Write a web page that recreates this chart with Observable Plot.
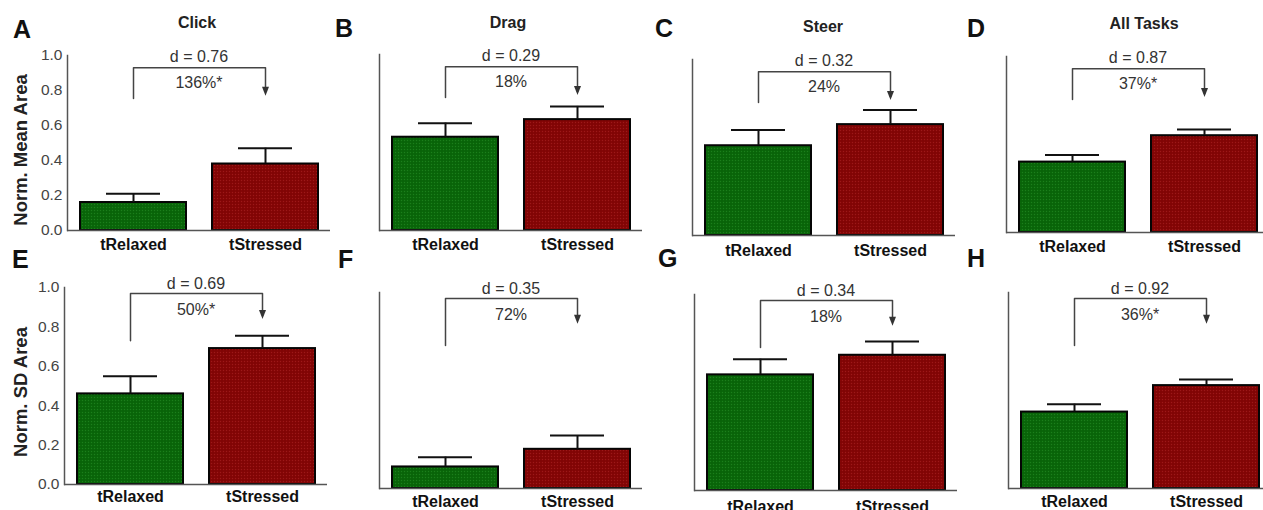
<!DOCTYPE html>
<html>
<head>
<meta charset="utf-8">
<script src="https://cdn.jsdelivr.net/npm/d3@7"></script>
<script src="https://cdn.jsdelivr.net/npm/@observablehq/plot@0.6"></script>
<style>
  body { margin: 0; background: #fff; }
  #root { position: relative; width: 1263px; height: 510px; overflow: hidden;
          font-family: "Liberation Sans", Arial, sans-serif; background: #fff; }
  .abs { position: absolute; white-space: pre; line-height: 1; }
  .letter { font-size: 25px; font-weight: bold; color: #111; }
  .title { font-size: 16px; font-weight: bold; color: #222; transform: translateX(-50%); }
  .ylab { font-size: 18.5px; font-weight: bold; color: #222; transform: translate(-50%, -50%) rotate(-90deg); }
  .panel { position: absolute; }
  .panel svg { max-width: none !important; }
</style>
</head>
<body>
<svg width="0" height="0" style="position:absolute">
  <defs>
    <pattern id="pGreen" width="3" height="3" patternUnits="userSpaceOnUse">
      <rect width="3" height="3" fill="#0a680a"></rect>
      <rect x="0" y="0" width="1" height="1" fill="#1d7d1d"></rect>
      <rect x="1.5" y="1.5" width="1" height="1" fill="#055205"></rect>
    </pattern>
    <pattern id="pRed" width="3" height="3" patternUnits="userSpaceOnUse">
      <rect width="3" height="3" fill="#860606"></rect>
      <rect x="0" y="0" width="1" height="1" fill="#9a1a1a"></rect>
      <rect x="1.5" y="1.5" width="1" height="1" fill="#6e0202"></rect>
    </pattern>
  </defs>
</svg>
<div id="root"></div>
<script>
// ---------------- data ----------------
const tasks = ["Click", "Drag", "Steer", "All Tasks"];
const panelLetters = ["A", "B", "C", "D", "E", "F", "G", "H"];
const conditions = ["tRelaxed", "tStressed"];
const yLabels = ["Norm. Mean Area", "Norm. SD Area"];
const yTicks = [0, 0.2, 0.4, 0.6, 0.8, 1.0];

const meanAreaRelaxed     = [0.16, 0.53, 0.51, 0.40];
const meanAreaRelaxedErr  = [0.05, 0.08, 0.09, 0.04];
const meanAreaStressed    = [0.38, 0.63, 0.63, 0.55];
const meanAreaStressedErr = [0.09, 0.075, 0.083, 0.035];
const meanAreaD   = ["d = 0.76", "d = 0.29", "d = 0.32", "d = 0.87"];
const meanAreaPct = ["136%*", "18%", "24%", "37%*"];

const sdAreaRelaxed     = [0.46, 0.11, 0.59, 0.39];
const sdAreaRelaxedErr  = [0.09, 0.05, 0.08, 0.04];
const sdAreaStressed    = [0.69, 0.20, 0.69, 0.525];
const sdAreaStressedErr = [0.065, 0.07, 0.07, 0.031];
const sdAreaD   = ["d = 0.69", "d = 0.35", "d = 0.34", "d = 0.92"];
const sdAreaPct = ["50%*", "72%", "18%", "36%*"];

// ---------------- layout / style ----------------
const frames = [
  {axisX: 67,   topY: 55,  baseY: 230, pad: 8.5}, {axisX: 379,  topY: 54,  baseY: 230, pad: 8.5},
  {axisX: 692,  topY: 59,  baseY: 235, pad: 9},   {axisX: 1006, topY: 56,  baseY: 232, pad: 8.5},
  {axisX: 64,   topY: 287, baseY: 484, pad: 6.5}, {axisX: 379,  topY: 292, baseY: 488, pad: 7},
  {axisX: 694,  topY: 294, baseY: 490, pad: 10},  {axisX: 1008, topY: 292, baseY: 488, pad: 7}
];
const frameW = 263;
const letterPos = [{x:13,b:38},{x:335,b:37},{x:655,b:37},{x:967,b:37},
                   {x:12,b:268},{x:338,b:268},{x:658,b:267},{x:967,b:267}];
const titlePos = [{cx:197,b:28.5},{cx:508,b:28.5},{cx:823,b:33},{cx:1144,b:30}];
const yLabelPos = [{cx:21, cy:150}, {cx:21, cy:392}];
const annotRows = [
  {bTop: 0.93, leg: 0.755, tip: 0.77, dY: 0.99, pY: 0.845},
  {bTop: 0.97, leg: 0.73,  tip: 0.84, dY: 1.02, pY: 0.885}
];
const GREEN = "url(#pGreen)", RED = "url(#pRed)";
const FONT = '"Liberation Sans", Arial, sans-serif';

const downArrow = {
  draw(ctx, size) {
    const r = Math.sqrt(size / Math.PI);
    ctx.moveTo(0, 0);
    ctx.lineTo(-0.875 * r, -2.25 * r);
    ctx.lineTo(0.875 * r, -2.25 * r);
    ctx.closePath();
  }
};

const root = document.getElementById("root");
function addText(cls, text, styles) {
  const el = document.createElement("div");
  el.className = "abs " + cls;
  el.textContent = text;
  Object.assign(el.style, styles);
  root.appendChild(el);
}

const rowsData = [
  {rel: meanAreaRelaxed, relE: meanAreaRelaxedErr, str: meanAreaStressed, strE: meanAreaStressedErr, d: meanAreaD, p: meanAreaPct},
  {rel: sdAreaRelaxed, relE: sdAreaRelaxedErr, str: sdAreaStressed, strE: sdAreaStressedErr, d: sdAreaD, p: sdAreaPct}
];

for (let row = 0; row < 2; row++) {
  for (let col = 0; col < 4; col++) {
    const idx = row * 4 + col;
    const f = frames[idx];
    const R = rowsData[row];
    const A = annotRows[row];
    const showY = col === 0;
    const mL = showY ? 60 : 8, mT = 34, mR = 8, mB = 30;
    const innerH = f.baseY - f.topY;
    const W = mL + frameW + mR, H = mT + innerH + mB;
    const bars = [
      {cond: conditions[0], mean: R.rel[col], err: R.relE[col]},
      {cond: conditions[1], mean: R.str[col], err: R.strE[col]}
    ];
    const bracket = [
      {x: conditions[0], y: A.leg},
      {x: conditions[0], y: A.bTop},
      {x: conditions[1], y: A.bTop},
      {x: conditions[1], y: A.tip + 0.02}
    ];
    const marks = [
      Plot.barY(bars, {x: "cond", y: "mean",
        fill: d => d.cond === conditions[0] ? GREEN : RED,
        stroke: "#050505", strokeWidth: 2}),
      Plot.ruleX(bars, {x: "cond", y1: "mean", y2: d => d.mean + d.err, stroke: "#111", strokeWidth: 2}),
      Plot.tickY(bars, {x: "cond", y: d => d.mean + d.err, insetLeft: 26, insetRight: 26, stroke: "#111", strokeWidth: 2}),
      Plot.ruleY([0], {stroke: "#555", strokeWidth: 1.5}),
      Plot.frame({anchor: "left", stroke: "#555", strokeWidth: 1.5}),
      Plot.line(bracket, {x: "x", y: "y", stroke: "#444", strokeWidth: 1.5}),
      Plot.dot([{x: conditions[1], y: A.tip}], {x: "x", y: "y", symbol: downArrow, r: 4, fill: "#333", stroke: "none"}),
      Plot.text([R.d[col]], {text: d => d, y: () => A.dY, frameAnchor: "middle", fontSize: 16, fill: "#333"}),
      Plot.text([R.p[col]], {text: d => d, y: () => A.pY, frameAnchor: "middle", fontSize: 16, fill: "#333"}),
      Plot.axisX({tickSize: 0, tickPadding: f.pad, fontSize: 16, fontWeight: "bold", fill: "#111", label: null})
    ];
    if (showY) {
      marks.push(Plot.axisY({ticks: yTicks, tickFormat: d => d.toFixed(1), tickSize: 0, tickPadding: 5,
        fontSize: 15.5, fill: "#444", label: null}));
    }
    const chart = Plot.plot({
      width: W,
      height: H,
      marginLeft: mL, marginTop: mT, marginRight: mR, marginBottom: mB,
      style: {background: "transparent", fontFamily: FONT, overflow: "visible", maxWidth: "none"},
      x: {domain: conditions, paddingInner: 0.2, paddingOuter: 0.09, axis: null},
      y: {domain: [0, 1], axis: null},
      marks
    });
    chart.style.width = W + "px";
    chart.style.height = H + "px";
    const wrap = document.createElement("div");
    wrap.className = "panel";
    wrap.style.left = (f.axisX - mL) + "px";
    wrap.style.top = (f.topY - mT) + "px";
    wrap.style.width = W + "px";
    wrap.style.height = H + "px";
    wrap.appendChild(chart);
    root.appendChild(wrap);
  }
}

// panel letters, titles, y labels
panelLetters.forEach((L, i) => {
  addText("letter", L, {left: letterPos[i].x + "px", top: (letterPos[i].b - 0.8465 * 25) + "px"});
});
tasks.forEach((t, i) => {
  addText("title", t, {left: titlePos[i].cx + "px", top: (titlePos[i].b - 0.8465 * 16) + "px"});
});
yLabels.forEach((t, i) => {
  addText("ylab", t, {left: yLabelPos[i].cx + "px", top: yLabelPos[i].cy + "px"});
});
</script>
</body>
</html>
